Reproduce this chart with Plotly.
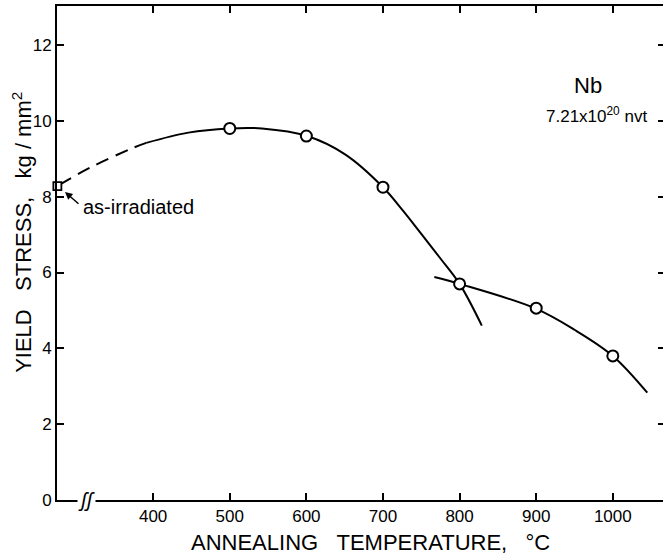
import plotly.graph_objects as go

# ---- data ----
temp_points = [500, 600, 700, 800, 900, 1000]
stress_points = [9.80, 9.60, 8.25, 5.70, 5.06, 3.80]

as_irr_temp = [275]
as_irr_stress = [8.28]

# dashed extrapolation toward the as-irradiated value
dash_temp = [278, 319, 374, 391]
dash_stress = [8.32, 8.78, 9.29, 9.42]

# first (upper) curve
curve1_temp = [391, 446, 499, 542, 601, 651, 700, 725, 750, 775, 800, 829]
curve1_stress = [9.42, 9.69, 9.80, 9.80, 9.60, 9.11, 8.25, 7.66, 7.02, 6.37, 5.70, 4.60]

# second (lower) curve
curve2_temp = [767, 800, 898, 950, 1000, 1045]
curve2_stress = [5.88, 5.70, 5.06, 4.49, 3.80, 2.83]

x_ticks = [400, 500, 600, 700, 800, 900, 1000]
y_ticks = [0, 2, 4, 6, 8, 10, 12]

X_RANGE = [274.5, 1065.5]
Y_RANGE = [0, 13.03]

FONT = "Liberation Sans Narrow, Liberation Sans, Arial, sans-serif"
BLACK = "black"

fig = go.Figure()

fig.add_trace(go.Scatter(x=dash_temp, y=dash_stress, mode="lines",
                         line=dict(color=BLACK, width=2, dash="13px,8px", shape="spline"),
                         hoverinfo="skip", showlegend=False))
fig.add_trace(go.Scatter(x=curve1_temp, y=curve1_stress, mode="lines",
                         line=dict(color=BLACK, width=2, shape="spline", smoothing=1.0),
                         hoverinfo="skip", showlegend=False))
fig.add_trace(go.Scatter(x=curve2_temp, y=curve2_stress, mode="lines",
                         line=dict(color=BLACK, width=2, shape="spline", smoothing=1.0),
                         hoverinfo="skip", showlegend=False))
fig.add_trace(go.Scatter(x=temp_points, y=stress_points, mode="markers",
                         marker=dict(symbol="circle", size=11, color="white",
                                     line=dict(color=BLACK, width=2)),
                         showlegend=False))
fig.add_trace(go.Scatter(x=as_irr_temp, y=as_irr_stress, mode="markers",
                         marker=dict(symbol="square", size=8, color="white",
                                     line=dict(color=BLACK, width=1.8)),
                         cliponaxis=False, showlegend=False))
# invisible trace to create the right-hand tick axis
fig.add_trace(go.Scatter(x=[X_RANGE[0]], y=[Y_RANGE[0]], mode="markers",
                         marker=dict(opacity=0), yaxis="y2", hoverinfo="skip",
                         showlegend=False))

fig.update_layout(
    width=663, height=558,
    margin=dict(l=57, r=0, t=6, b=58),
    paper_bgcolor="white", plot_bgcolor="white",
    font=dict(family=FONT, color=BLACK, size=16),
    xaxis=dict(range=X_RANGE, tickvals=x_ticks, ticktext=[str(v) for v in x_ticks],
               ticks="inside", ticklen=7, tickwidth=1.5, tickcolor=BLACK,
               showline=True, linecolor=BLACK, linewidth=2, mirror="ticks",
               showgrid=False, zeroline=False,
               tickfont=dict(family=FONT, size=17)),
    yaxis=dict(range=Y_RANGE, tickvals=y_ticks, ticktext=[str(v) for v in y_ticks],
               ticks="inside", ticklen=7, tickwidth=1.5, tickcolor=BLACK,
               showline=True, linecolor=BLACK, linewidth=2,
               showgrid=False, zeroline=False,
               tickfont=dict(family=FONT, size=17)),
    yaxis2=dict(range=Y_RANGE, overlaying="y", side="right", tickvals=y_ticks,
                showticklabels=False, ticks="inside", ticklen=5, tickwidth=1.5,
                tickcolor=BLACK, showline=False, showgrid=False, zeroline=False),
)

NB = "\u00a0"
annotations = [
    # axis titles
    dict(text=f"ANNEALING{NB}{NB}{NB}TEMPERATURE,{NB}{NB}{NB}°C", xref="paper", yref="paper",
         x=0.518, y=-0.087, showarrow=False, xanchor="center", yanchor="middle",
         font=dict(family=FONT, size=22)),
    dict(text=f"YIELD{NB}{NB}{NB}STRESS,{NB}{NB}{NB}kg{NB}/{NB}mm<sup>2</sup>", xref="paper", yref="paper",
         x=-0.058, y=0.5425, showarrow=False, textangle=-90, xanchor="center", yanchor="middle",
         font=dict(family=FONT, size=22)),
    # axis break marks
    dict(text="<i>ʃʃ</i>", x=313, y=0, xref="x", yref="y", showarrow=False,
         bgcolor="white", font=dict(family=FONT, size=20), borderpad=0,
         xanchor="center", yanchor="middle"),
    # labels (pixel positions, converted to data coordinates below)
    dict(text="Nb", x=588, y=85, showarrow=False, font=dict(size=22)),
    dict(text="7.21x10<sup>20</sup>" + NB + "nvt", x=596, y=115, showarrow=False, font=dict(size=17)),
    dict(text="as-irradiated", x=81, y=207, showarrow=False, xanchor="left", font=dict(size=20)),
    dict(text="", x=65, y=192, ax=80, ay=205, showarrow=True, arrowhead=2, arrowsize=1,
         arrowwidth=1.5, arrowcolor=BLACK),
]

def px_to_data(px, py):
    x0, x1 = X_RANGE
    y0, y1 = Y_RANGE
    pw = 663 - 57
    ph = 558 - 6 - 58
    xd = x0 + (px - 57) / pw * (x1 - x0)
    yd = y0 + (500 - py) / ph * (y1 - y0)
    return xd, yd

final = []
for a in annotations:
    if "xref" not in a:
        xd, yd = px_to_data(a["x"], a["y"])
        a = dict(a)
        a["x"], a["y"] = xd, yd
        a["xref"], a["yref"] = "x", "y"
        if a.get("showarrow"):
            axd, ayd = px_to_data(a["ax"], a["ay"])
            a["ax"], a["ay"] = axd, ayd
            a["axref"], a["ayref"] = "x", "y"
    final.append(a)

fig.update_layout(annotations=final)
fig.write_html("out.html", config={"displayModeBar": False},
               post_script="document.body.style.margin='0';document.body.style.overflow='hidden';")
